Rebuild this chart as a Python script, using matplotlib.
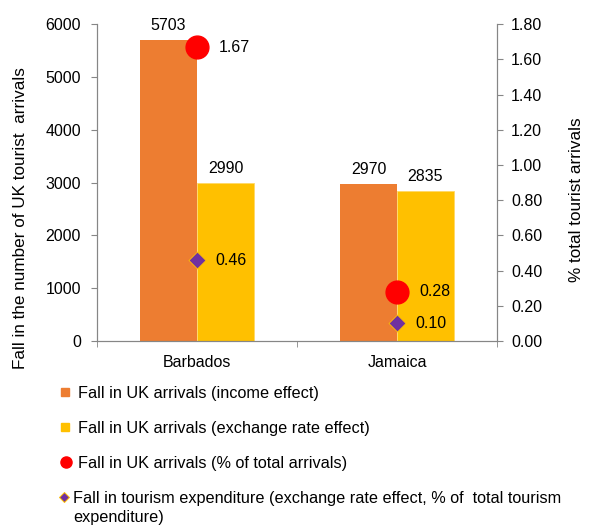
import matplotlib
matplotlib.use("Agg")
import matplotlib.pyplot as plt
from matplotlib.lines import Line2D
from matplotlib.ticker import FormatStrFormatter
import numpy as np

plt.rcParams["font.family"] = ["Liberation Sans", "DejaVu Sans"]
plt.rcParams["font.size"] = 11.5

# ─── Data ─────────────────────────────────────────────────────────────────────
countries = ["Barbados", "Jamaica"]
income_effect = [5703, 2970]          # fall in UK arrivals
exchange_effect = [2990, 2835]
pct_arrivals = [1.67, 0.28]           # % of total arrivals
pct_expenditure = [0.46, 0.10]        # % of total tourism expenditure

legend_labels = [
    "Fall in UK arrivals (income effect)",
    "Fall in UK arrivals (exchange rate effect)",
    "Fall in UK arrivals (% of total arrivals)",
    "Fall in tourism expenditure (exchange rate effect, % of  total tourism\nexpenditure)",
]

ORANGE, YELLOW, RED, PURPLE = "#ED7D31", "#FFC000", "#FF0000", "#7030A0"
GREY = "#868686"
W, H = 593, 525

# ─── Figure ───────────────────────────────────────────────────────────────────
fig = plt.figure(figsize=(W / 100, H / 100), dpi=100)
ax = fig.add_axes([0.1636, 0.3505, 0.6745, 0.6035])
ax2 = ax.twinx()

x = np.arange(len(countries))
w = 0.285
b1 = ax.bar(x - w / 2, income_effect, w, color=ORANGE, zorder=2)
b2 = ax.bar(x + w / 2, exchange_effect, w, color=YELLOW,
            edgecolor="#FFD966", linewidth=0.6, zorder=2)

for bars, vals in ((b1, income_effect), (b2, exchange_effect)):
    for rect, v in zip(bars, vals):
        ax.annotate(f"{v}", (rect.get_x() + rect.get_width() / 2, v),
                    xytext=(0, 5), textcoords="offset points",
                    ha="center", va="bottom")

ax2.scatter(x, pct_arrivals, s=270, color=RED, zorder=3)
ax2.scatter(x, pct_expenditure, s=75, marker="D", color=PURPLE,
            edgecolors=YELLOW, linewidths=0.6, zorder=3)
for xi, v in zip(x, pct_arrivals):
    ax2.annotate(f"{v:.2f}", (xi, v), xytext=(16, 0),
                 textcoords="offset points", ha="left", va="center")
for xi, v in zip(x, pct_expenditure):
    ax2.annotate(f"{v:.2f}", (xi, v), xytext=(13, 0),
                 textcoords="offset points", ha="left", va="center")

# ─── Axes ─────────────────────────────────────────────────────────────────────
ax.set_xlim(-0.5, 1.5)
ax.set_ylim(0, 6000)
ax.set_yticks(np.arange(0, 6001, 1000))
ax2.set_ylim(0, 1.8)
ax2.set_yticks(np.arange(0, 1.81, 0.2))
ax2.yaxis.set_major_formatter(FormatStrFormatter("%.2f"))

ax.set_xticks(x)
ax.set_xticklabels(countries)
ax.set_xticks([-0.5, 0.5, 1.5], minor=True)
ax.tick_params(axis="x", which="major", length=0, pad=10)
ax.tick_params(axis="x", which="minor", length=4.5, color=GREY)
ax.tick_params(axis="y", length=4.5, color=GREY, pad=7)
ax2.tick_params(axis="y", length=4.5, color=GREY, pad=5.7)

for a in (ax, ax2):
    a.spines["top"].set_visible(False)
    for s in ("left", "right", "bottom"):
        a.spines[s].set_color(GREY)

ax.set_ylabel("Fall in the number of UK tourist  arrivals", fontsize=12.3)
ax.yaxis.set_label_coords(-0.1725, 0.388)
ax2.set_ylabel("% total tourist arrivals", fontsize=12.3)
ax2.yaxis.set_label_coords(1.18, 0.445)

# ─── Legend (drawn by hand so the diamond sits on the first text line) ───────
handles = [
    dict(marker="s", ms=6, color=ORANGE),
    dict(marker="s", ms=6, color=YELLOW),
    dict(marker="o", ms=8, color=RED),
    dict(marker="D", ms=5.5, color=PURPLE, markeredgecolor=YELLOW,
         markeredgewidth=0.7),
]
row_y = [392, 427, 462, 497]
mark_x = [64.7, 64.7, 66, 64]
text_x = [78, 78, 78, 73]
line_gap = 19
for style, label, ry, mx, tx in zip(handles, legend_labels, row_y,
                                    mark_x, text_x):
    fig.add_artist(Line2D([mx / W], [1 - ry / H], ls="",
                          transform=fig.transFigure, **style))
    for i, line in enumerate(label.split("\n")):
        fig.text(tx / W, 1 - (ry + 5.8 + i * line_gap) / H, line,
                 fontsize=11.7, ha="left", va="baseline")

fig.savefig("out.png", dpi=100)
